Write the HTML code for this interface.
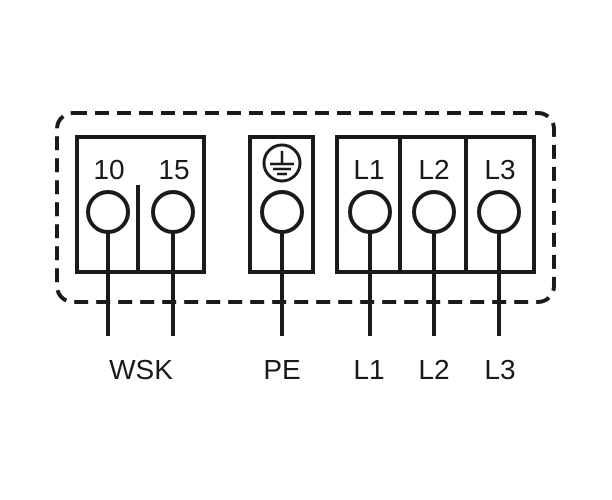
<!DOCTYPE html>
<html><head><style>
html,body{margin:0;padding:0;background:#fff;}
svg{display:block;}
text{font-family:"Liberation Sans",sans-serif;fill:#1a1a1a;}
</style></head><body>
<svg width="612" height="500" viewBox="0 0 612 500" xmlns="http://www.w3.org/2000/svg">
<g stroke="#1a1a1a" stroke-width="4" fill="none">
<rect x="57" y="113" width="497" height="189" rx="16" stroke-dasharray="14 8"/>
<rect x="77" y="137" width="127" height="135" fill="#fff"/>
<line x1="138" y1="185" x2="138" y2="272"/>
<rect x="250" y="137" width="63" height="135" fill="#fff"/>
<rect x="337" y="137" width="197" height="135" fill="#fff"/>
<line x1="400" y1="137" x2="400" y2="272"/>
<line x1="466" y1="137" x2="466" y2="272"/>
<circle cx="282" cy="163" r="18" stroke-width="3"/>
<line x1="282" y1="151" x2="282" y2="164" stroke-width="2.5"/>
<line x1="270" y1="164" x2="294" y2="164" stroke-width="2.5"/>
<line x1="273" y1="169" x2="291" y2="169" stroke-width="2.5"/>
<line x1="277" y1="174" x2="287" y2="174" stroke-width="2.5"/>
<g>
<line x1="108" y1="232" x2="108" y2="336"/>
<line x1="173" y1="232" x2="173" y2="336"/>
<line x1="282" y1="232" x2="282" y2="336"/>
<line x1="370" y1="232" x2="370" y2="336"/>
<line x1="434" y1="232" x2="434" y2="336"/>
<line x1="499" y1="232" x2="499" y2="336"/>
</g>
<circle cx="108" cy="212" r="20" fill="#fff"/>
<circle cx="173" cy="212" r="20" fill="#fff"/>
<circle cx="282" cy="212" r="20" fill="#fff"/>
<circle cx="370" cy="212" r="20" fill="#fff"/>
<circle cx="434" cy="212" r="20" fill="#fff"/>
<circle cx="499" cy="212" r="20" fill="#fff"/>
</g>
<g font-size="28" text-anchor="middle">
<text x="109" y="179">10</text>
<text x="174" y="179">15</text>
<text x="369" y="179">L1</text>
<text x="434" y="179">L2</text>
<text x="500" y="179">L3</text>
<text x="141" y="379">WSK</text>
<text x="282" y="379">PE</text>
<text x="369" y="379">L1</text>
<text x="434" y="379">L2</text>
<text x="500" y="379">L3</text>
</g>
</svg>
</body></html>
